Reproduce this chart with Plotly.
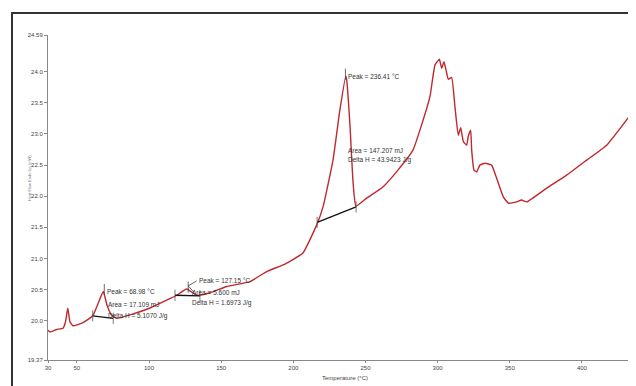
import plotly.graph_objects as go

# DSC curve (Temperature °C, Heat flow)
temp = [30, 31.4, 36, 40.4, 42.1, 43.7, 45.2, 47.3, 54.3, 61.0, 64.6, 68.3, 70.9, 74.1, 77.6,
        88.9, 100.7, 112.2, 119.2, 126.1, 133.0, 142.3, 153.8, 170.0, 181.5, 194.2, 206.7,
        216.2, 220.6, 227.5, 232.3, 236.4, 237.0, 239.3, 241.3, 243.4, 250.8, 262.1, 272.5,
        282.9, 289.9, 294.7, 298.2, 301.2, 302.8, 304.4, 305.8, 307.4, 309.7, 312.0, 314.3,
        316.0, 317.8, 320.1, 321.2, 322.9, 323.6, 325.2, 327.1, 329.3, 332.8, 337.4, 339.7,
        345.5, 349.0, 354.8, 358.2, 361.7, 375.6, 389.4, 403.3, 417.1, 434.7]
heat = [19.85, 19.82, 19.86, 19.88, 19.98, 20.20, 19.985, 19.92, 19.97, 20.08, 20.27, 20.47,
        20.25, 20.09, 20.04, 20.11, 20.205, 20.33, 20.41, 20.51, 20.41, 20.45, 20.55, 20.63,
        20.79, 20.91, 21.09, 21.54, 21.83, 22.58, 23.39, 23.93, 23.87, 23.12, 22.26, 21.84,
        21.97, 22.15, 22.42, 22.74, 23.22, 23.60, 24.11, 24.20, 24.055, 24.16, 24.03, 23.88,
        23.91, 23.44, 22.98, 23.10, 22.88, 22.82, 22.96, 23.06, 22.74, 22.42, 22.39, 22.50,
        22.53, 22.50, 22.37, 21.99, 21.89, 21.91, 21.94, 21.91, 22.13, 22.34, 22.58, 22.82,
        23.34]

# Peak integration baselines: (T values, HF values)
base1 = ([61.0, 75.2], [20.08, 20.04])
base2 = ([118.0, 135.3], [20.41, 20.40])
base3 = ([216.5, 243.5], [21.58, 21.83])
peaks_T = [69.0, 127.15, 236.1]
peaks_HF = [20.47, 20.51, 23.93]

xticks = [30, 50, 100, 150, 200, 250, 300, 350, 400]
yticks = [19.37, 20.0, 20.5, 21.0, 21.5, 22.0, 22.5, 23.0, 23.5, 24.0, 24.59]
yticktext = ["19.37", "20.0", "20.5", "21.0", "21.5", "22.0", "22.5", "23.0", "23.5", "24.0", "24.59"]

labels = [
    (69.5, 20.47, "Peak = 68.98 °C"), (70.0, 20.265, "Area = 17.109 mJ"), (70.0, 20.08, "Delta H = 5.1070 J/g"),
    (133.0, 20.655, "Peak = 127.15 °C"), (128.4, 20.45, "Area = 5.600 mJ"), (128.4, 20.28, "Delta H = 1.6973 J/g"),
    (236.3, 23.92, "Peak = 236.41 °C"), (236.3, 22.73, "Area = 147.207 mJ"), (236.3, 22.59, "Delta H = 43.9423 J/g"),
]

RED = "rgb(192,40,45)"
FONT = "Liberation Sans Narrow, Liberation Sans, Arial"
# the page body has an 8px margin: figure is placed at (8, 8) in the window
W, H = 628, 378
L, R, T, B = 40, 4, 27, 26
PW, PH = W - L - R, H - T - B

fig = go.Figure()
fig.add_trace(go.Scatter(x=temp, y=heat, mode="lines", line=dict(color=RED, width=1.4, shape="spline", smoothing=0.4),
                         hoverinfo="skip"))
for bx, by in (base1, base2, base3):
    fig.add_trace(go.Scatter(x=bx, y=by, mode="lines", line=dict(color="#111", width=1.3), hoverinfo="skip"))
    for xx, yy in zip(bx, by):
        fig.add_trace(go.Scatter(x=[xx, xx], y=[yy - 0.09, yy + 0.09], mode="lines",
                                 line=dict(color="#555", width=0.8), hoverinfo="skip"))
for px, py in zip(peaks_T, peaks_HF):
    fig.add_trace(go.Scatter(x=[px, px], y=[py - 0.06, py + 0.12], mode="lines",
                             line=dict(color="#444", width=0.8), hoverinfo="skip"))
# pointer at the second peak
fig.add_trace(go.Scatter(x=[127.15, 133.0], y=[20.56, 20.64], mode="lines",
                         line=dict(color="#444", width=0.8), hoverinfo="skip"))
fig.add_trace(go.Scatter(x=[127.15, 131.0], y=[20.56, 20.46], mode="lines",
                         line=dict(color="#444", width=0.8), hoverinfo="skip"))

for lx, ly, t in labels:
    fig.add_annotation(x=lx, y=ly, text=t, showarrow=False, xanchor="left", yanchor="middle",
                       font=dict(size=6.5, color="#333", family=FONT))

fig.add_annotation(xref="paper", yref="paper", x=(337 - L) / PW, y=-(370 - (T + PH)) / PH, text="Temperature (°C)",
                   showarrow=False, font=dict(size=6, color="#444", family=FONT),
                   xanchor="center", yanchor="middle")
fig.add_annotation(xref="paper", yref="paper", x=(22 - L) / PW, y=((T + PH) - 170) / PH, text="Heat Flow Endo Up (mW)",
                   showarrow=False, textangle=-90, font=dict(size=4, color="#777", family=FONT),
                   xanchor="center", yanchor="middle")

# outer frame (window px (12,13) -> figure px (4,5))
fig.add_shape(type="rect", xref="paper", yref="paper", x0=(4 - L) / PW, x1=(W + 10 - L) / PW,
              y0=-(H + 10 - (T + PH)) / PH, y1=((T + PH) - 5) / PH, line=dict(color="#333", width=2))

fig.update_layout(
    width=W, height=H, margin=dict(l=L, r=R, t=T, b=B),
    paper_bgcolor="white", plot_bgcolor="white", showlegend=False,
    xaxis=dict(range=[30, 434.7], tickvals=xticks, showgrid=False, zeroline=False, showline=True,
               linecolor="#888", linewidth=1, ticks="outside", ticklen=2, tickcolor="#888",
               tickfont=dict(size=6, color="#444", family=FONT)),
    yaxis=dict(range=[19.37, 24.59], tickvals=yticks, ticktext=yticktext, showgrid=False, zeroline=False,
               showline=True, linecolor="#888", linewidth=1, ticks="outside", ticklen=3, tickcolor="#888",
               tickfont=dict(size=6, color="#444", family=FONT)),
)
fig.write_html("out.html")
